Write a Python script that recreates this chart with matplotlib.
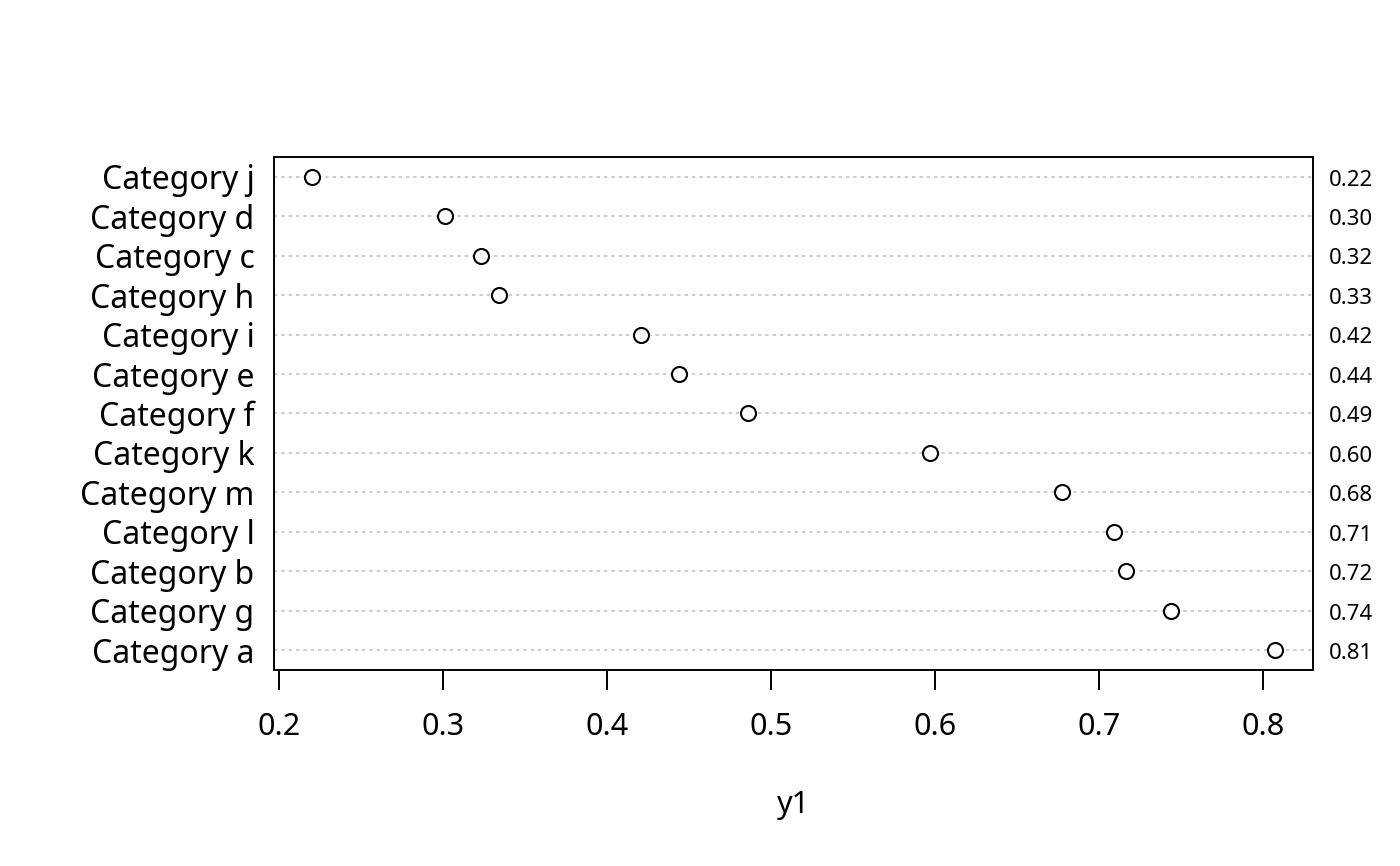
import matplotlib
matplotlib.use("Agg")
import matplotlib.pyplot as plt

plt.rcParams["font.family"] = ["Noto Sans", "DejaVu Sans"]

# categories from top to bottom, as in the chart
categories = [
    "Category j", "Category d", "Category c", "Category h", "Category i",
    "Category e", "Category f", "Category k", "Category m", "Category l",
    "Category b", "Category g", "Category a",
]
values = [0.220, 0.301, 0.323, 0.334, 0.4205, 0.444, 0.486,
          0.597, 0.677, 0.709, 0.716, 0.744, 0.807]
x_ticks = [0.2, 0.3, 0.4, 0.5, 0.6, 0.7, 0.8]
x_label = "y1"

fig = plt.figure(figsize=(14, 8.66), dpi=100)
ax = fig.add_axes([274 / 1400, 1 - 670 / 866, (1313 - 274) / 1400, (670 - 157) / 866])

n = len(categories)
rows = list(range(n, 0, -1))

for r in rows:
    ax.axhline(r, color="#BEBEBE", lw=1.1, dashes=(2.2, 2.6), zorder=1)

ax.plot(values, rows, linestyle="none", marker="o", markersize=10.8,
        markerfacecolor="white", markeredgecolor="black", markeredgewidth=1.5, zorder=3)

# value labels to the right of the box
for r, v in zip(rows, values):
    ax.annotate(f"{v:.2f}", xy=(1, r), xycoords=("axes fraction", "data"),
                xytext=(11.5, -2.4), textcoords="offset points",
                ha="left", va="center", fontsize=16)

ax.set_xlim(0.19677, 0.8303)
ax.set_ylim(0.5, n + 0.5)
ax.set_xticks(x_ticks)
ax.set_xticklabels([f"{t:g}" for t in x_ticks])
ax.set_yticks(rows)
ax.set_yticklabels(categories)
ax.tick_params(axis="x", length=14.4, width=1.4, pad=16, labelsize=22)
ax.tick_params(axis="y", length=0, pad=14, labelsize=23)
for side in ax.spines.values():
    side.set_linewidth(1.4)

fig.text((274 + 1313) / 2 / 1400, 1 - 805 / 866, x_label, ha="center", va="center", fontsize=22)

fig.savefig("out.png", dpi=100)
